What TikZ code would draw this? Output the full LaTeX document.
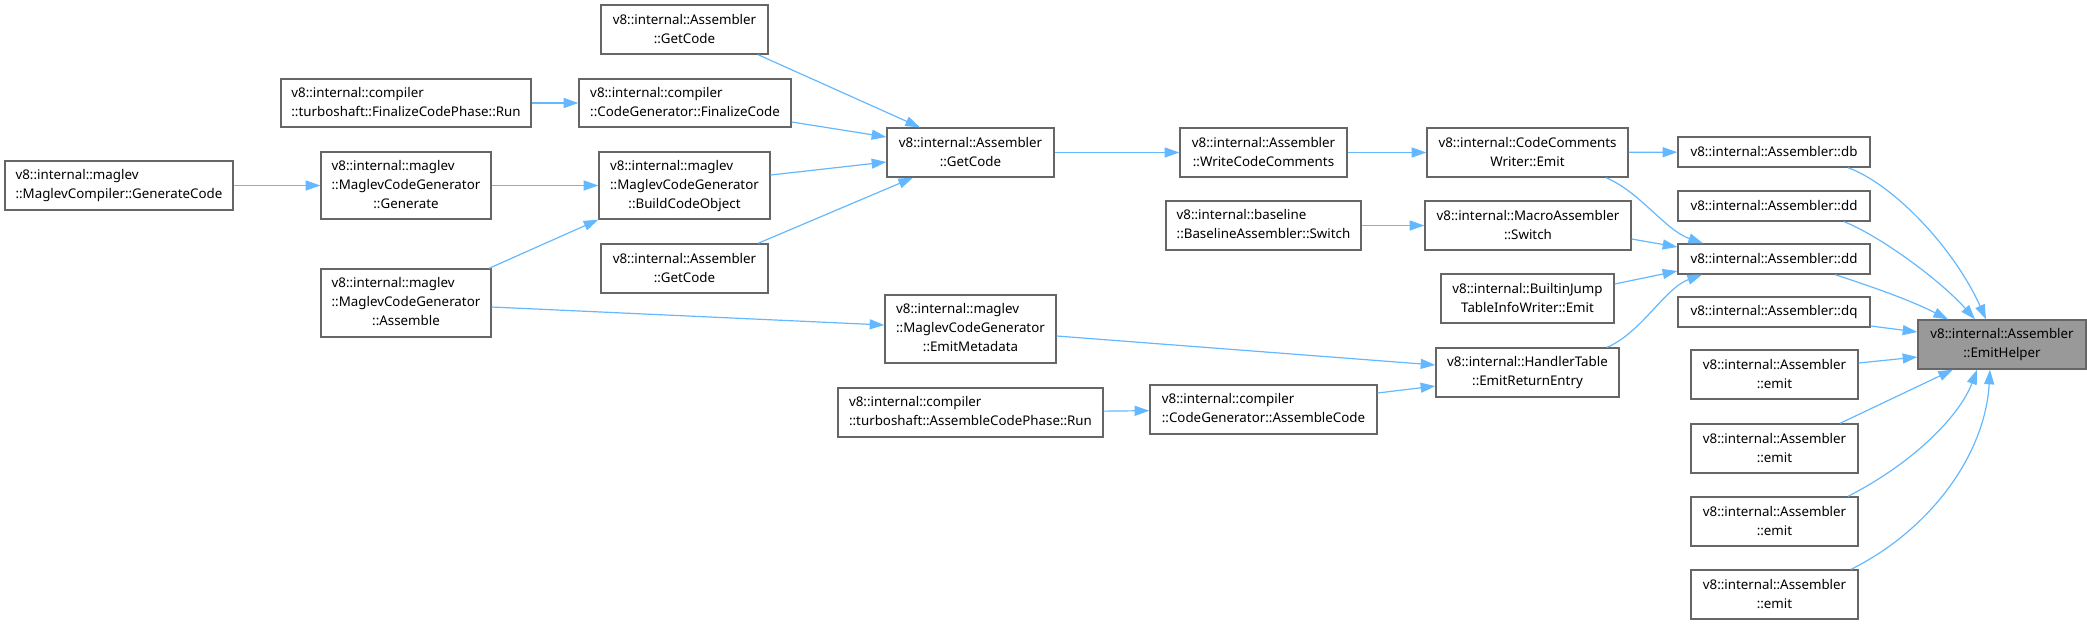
\documentclass[tikz,border=0pt]{standalone}
\usepackage{fontspec}
\setmainfont{Noto Sans}
\usetikzlibrary{arrows.meta,calc}
\definecolor{edgeblue}{HTML}{63B8FF}
\definecolor{boxgray}{HTML}{666666}
\definecolor{helpergray}{HTML}{999999}
\newcommand\dlabel[1]{\begin{tabular}{@{}l@{}}#1\end{tabular}}
\newcommand\dcent[1]{\multicolumn{1}{@{}c@{}}{#1}}
\tikzset{
  box/.style={draw=boxgray, line width=1pt, fill=white, inner sep=0pt, font=\fontsize{10}{14.25}\selectfont, align=center},
  sz/.style 2 args={minimum width=#1*0.75pt, minimum height=#2*0.75pt},
  edge/.style={draw=edgeblue, line width=0.9pt, -{Triangle[length=11pt,width=7.5pt]}},
}
\begin{document}
\begin{tikzpicture}[x=0.75pt,y=-0.75pt]
\useasboundingbox (0,0) rectangle (2087,625);

% column 1
\node[box,sz={228}{49}] (gencode) at (119,185.5) {\dlabel{v8::internal::maglev\\::MaglevCompiler::GenerateCode}};
% column 2
\node[box,sz={250}{48}] (finrun) at (406,103) {\dlabel{v8::internal::compiler\\::turboshaft::FinalizeCodePhase::Run}};
\node[box,sz={170}{67}] (generate) at (406,185.5) {\dlabel{v8::internal::maglev\\::MaglevCodeGenerator\\\dcent{::Generate}}};
\node[box,sz={170}{68}] (assemble) at (406,303) {\dlabel{v8::internal::maglev\\::MaglevCodeGenerator\\\dcent{::Assemble}}};
% column 3
\node[box,sz={167}{49}] (getcodetop) at (684.5,29.5) {v8::internal::Assembler\\::GetCode};
\node[box,sz={212}{48}] (finalize) at (685,103) {\dlabel{v8::internal::compiler\\::CodeGenerator::FinalizeCode}};
\node[box,sz={171}{67}] (build) at (684.5,185.5) {\dlabel{v8::internal::maglev\\::MaglevCodeGenerator\\\dcent{::BuildCodeObject}}};
\node[box,sz={167}{49}] (getcodebot) at (684.5,268.5) {v8::internal::Assembler\\::GetCode};
% column 4
\node[box,sz={167}{49}] (getcode) at (970.5,152.5) {v8::internal::Assembler\\::GetCode};
\node[box,sz={171}{68}] (emitmeta) at (970.5,329) {\dlabel{v8::internal::maglev\\::MaglevCodeGenerator\\\dcent{::EmitMetadata}}};
\node[box,sz={265}{49}] (asmrun) at (970.5,412.5) {\dlabel{v8::internal::compiler\\::turboshaft::AssembleCodePhase::Run}};
% column 5
\node[box,sz={167}{49}] (wcc) at (1263.5,152.5) {v8::internal::Assembler\\::WriteCodeComments};
\node[box,sz={195}{49}] (baseline) at (1263.5,225.5) {\dlabel{v8::internal::baseline\\::BaselineAssembler::Switch}};
\node[box,sz={227}{49}] (asmcode) at (1263.5,409.5) {\dlabel{v8::internal::compiler\\::CodeGenerator::AssembleCode}};
% column 6
\node[box,sz={201}{49}] (ccw) at (1527.5,152.5) {v8::internal::CodeComments\\Writer::Emit};
\node[box,sz={206}{49}] (macro) at (1528,225.5) {v8::internal::MacroAssembler\\::Switch};
\node[box,sz={173}{49}] (builtin) at (1527.5,298.5) {v8::internal::BuiltinJump\\TableInfoWriter::Emit};
\node[box,sz={183}{49}] (handler) at (1527.5,372.5) {v8::internal::HandlerTable\\::EmitReturnEntry};
% column 7
\node[box,sz={192}{30}] (db) at (1774,152) {v8::internal::Assembler::db};
\node[box,sz={192}{30}] (ddone) at (1774,206) {v8::internal::Assembler::dd};
\node[box,sz={192}{30}] (ddtwo) at (1774,259) {v8::internal::Assembler::dd};
\node[box,sz={192}{30}] (dq) at (1774,312) {v8::internal::Assembler::dq};
\node[box,sz={167}{49}] (emitone) at (1774.5,374.5) {v8::internal::Assembler\\::emit};
\node[box,sz={167}{49}] (emittwo) at (1774.5,448.5) {v8::internal::Assembler\\::emit};
\node[box,sz={167}{49}] (emitthree) at (1774.5,521.5) {v8::internal::Assembler\\::emit};
\node[box,sz={167}{49}] (emitfour) at (1774.5,594.5) {v8::internal::Assembler\\::emit};
% target
\node[box,sz={168}{49},fill=helpergray] (helper) at (2002,344.5) {v8::internal::Assembler\\::EmitHelper};

% edges
\draw[edge] (gencode) -- (generate);
\draw[edge] (generate) -- (build);
\draw[edge] (finrun) -- (finalize);
\draw[edge] ($(assemble.north)+(83,0)$) -- (build.south west);
\draw[edge] ($(assemble.east)+(0,4)$) -- ($(emitmeta.west)+(0,-4)$);
\draw[edge] ($(getcodetop.south)+(73.5,0)$) -- ($(getcode.north)+(-50.5,0)$);
\draw[edge] ($(finalize.east)+(0,19)$) -- ($(getcode.west)+(0,-15.5)$);
\draw[edge] ($(build.east)+(0,-10.5)$) -- ($(getcode.west)+(0,9.5)$);
\draw[edge] ($(getcodebot.north)+(73.5,0)$) -- ($(getcode.south)+(-57.5,0)$);
\draw[edge] (getcode) -- (wcc);
\draw[edge] (wcc) -- (ccw);
\draw[edge] (baseline) -- (macro);
\draw[edge] (asmrun) -- (asmcode);
\draw[edge] ($(emitmeta.east)+(0,7)$) -- ($(handler.west)+(0,-7.5)$);
\draw[edge] ($(asmcode.east)+(0,-16.5)$) -- ($(handler.west)+(0,13.5)$);
\draw[edge] (ccw) -- (db);
\draw[edge] ($(ccw.south)+(78.5,0)$) .. controls (1640,192) and (1665,230) .. ($(ddtwo.north)+(-71,0)$);
\draw[edge] ($(macro.east)+(0,13.5)$) -- ($(ddtwo.west)+(0,-12)$);
\draw[edge] ($(builtin.east)+(0,-14.5)$) -- ($(ddtwo.west)+(0,12)$);
\draw[edge] ($(handler.north)+(79.5,0)$) .. controls (1641,333) and (1665,288) .. ($(ddtwo.south)+(-72,0)$);
% into helper
\draw[edge] ($(db.south)+(74,0)$) .. controls (1895,185) and (1955,250) .. ($(helper.north)+(-16,0)$);
\draw[edge] ($(ddone.south)+(70,0)$) .. controls (1880,236) and (1940,280) .. ($(helper.north)+(-27,0)$);
\draw[edge] ($(ddtwo.south)+(61,0)$) .. controls (1870,286) and (1910,300) .. ($(helper.north)+(-54,0)$);
\draw[edge] ($(dq.east)+(0,14)$) -- ($(helper.west)+(0,-12.5)$);
\draw[edge] ($(emitone.east)+(0,-11.5)$) -- ($(helper.west)+(0,12.5)$);
\draw[edge] ($(emittwo.north)+(65.5,0)$) -- ($(helper.south)+(-49,0)$);
\draw[edge] ($(emitthree.north)+(73.5,0)$) .. controls (1915,462) and (1960,415) .. ($(helper.south)+(-25,0)$);
\draw[edge] ($(emitfour.north)+(76.5,0)$) .. controls (1930,530) and (1985,455) .. ($(helper.south)+(-12,0)$);
\end{tikzpicture}
\end{document}
